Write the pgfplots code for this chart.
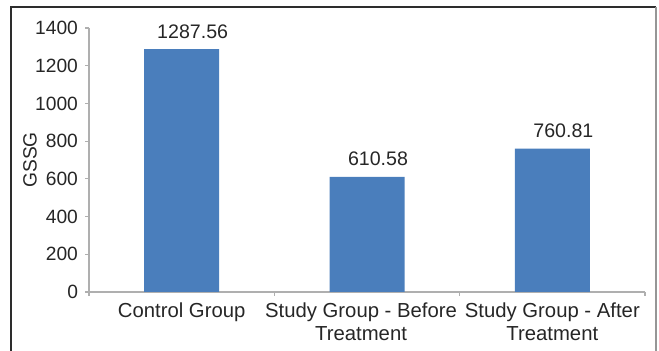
\documentclass[border=0pt]{standalone}
\usepackage{pgfplots}
\pgfplotsset{compat=1.18}
\usepackage{fontspec}
\setmainfont{Liberation Sans}
\definecolor{barblue}{RGB}{74,126,188}
\definecolor{axgray}{RGB}{175,175,175}
\definecolor{framedark}{RGB}{45,45,45}
\definecolor{framegray}{RGB}{150,150,150}
\begin{document}
\begin{tikzpicture}
\useasboundingbox (-44.5pt,-29.5pt) rectangle (285pt,146pt);
\begin{axis}[
  at={(0,0)}, anchor=south west,
  scale only axis, width=278pt, height=132pt,
  xmin=-0.5, xmax=2.5, ymin=0, ymax=1400,
  axis x line*=bottom, axis y line*=left,
  axis line style={axgray, line width=0.6pt},
  ytick={0,200,...,1400},
  xtick={0,0.968,2},
  xticklabels={Control Group, {Study Group - Before\\Treatment}, {Study Group - After\\Treatment}},
  major x tick style={draw=none},
  minor xtick={-0.5,0.5,1.5,2.5},
  tick align=outside, major tick length=2pt, minor tick length=2pt,
  every tick/.style={axgray, line width=0.6pt},
  minor tick style={axgray, line width=0.6pt},
  x tick label style={align=center, font=\fontsize{10.15}{11.5}\selectfont, text=black!85},
  y tick label style={font=\fontsize{9.6}{11}\selectfont, text=black!85},
  /pgf/number format/assume math mode=true,
  /pgf/number format/1000 sep={},
  ylabel={GSSG},
  ylabel style={at={(axis description cs:-0.106,0.5)}, anchor=center, font=\fontsize{9.6}{11}\selectfont, text=black!85},
  clip=false,
]
\addplot[ybar, fill=barblue, draw=none, bar width=37.5pt,
  point meta=explicit symbolic,
  nodes near coords,
  nodes near coords style={font=\fontsize{9.8}{12}\selectfont, text=black!85, inner sep=0pt, anchor=south, yshift=5.2pt, xshift=5.5pt}]
  coordinates {(0,1287.56) [1287.56] (1,610.58) [610.58] (2,760.81) [760.81]};
\end{axis}
\draw[framedark, line width=1pt] (-39pt,-40pt) -- (-39pt,142.5pt) -- (283.5pt,142.5pt);
\draw[framegray, line width=1.3pt] (283.5pt,142.5pt) -- (283.5pt,-40pt);
\end{tikzpicture}
\end{document}
